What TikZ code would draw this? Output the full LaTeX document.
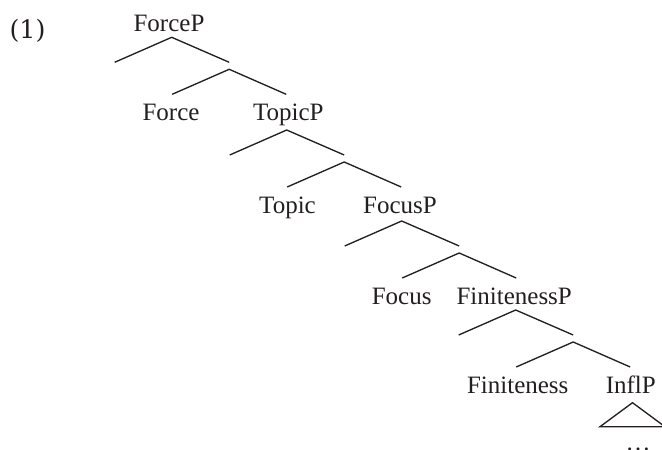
\documentclass[tikz,border=0pt]{standalone}
\usepackage{fontspec}
\setmainfont{Liberation Serif}
\newfontfamily\exfont{DejaVu Serif}
\definecolor{ink}{RGB}{35,31,32}
\tikzset{
  lbl/.style={anchor=base, inner sep=0pt, text=ink, font=\fontsize{18.75pt}{20pt}\selectfont},
  br/.style={draw=ink, line width=1pt},
}
\begin{document}
\begin{tikzpicture}[x=0.75pt, y=-0.75pt]
\useasboundingbox (0,0) rectangle (662,450);
\clip (0,0) rectangle (662,450);
\node[anchor=base, inner sep=0pt, text=ink, font=\exfont\fontsize{19pt}{20pt}\selectfont] (ex) at (27.5,38.5) {(1)};
% labels
\node[lbl] (forcep) at (169,31.7) {ForceP};
\node[lbl] (force) at (171,120.7) {Force};
\node[lbl] (topicp) at (288.3,120.7) {TopicP};
\node[lbl] (topic) at (287.5,213.3) {Topic};
\node[lbl] (focusp) at (400,213.3) {FocusP};
\node[lbl] (focus) at (401.7,304) {Focus};
\node[lbl] (finp) at (514.2,304) {FinitenessP};
\node[lbl] (fin) at (517.7,393.3) {Finiteness};
\node[lbl] (inflp) at (630.8,393.3) {InflP};
\node[lbl] (dots) at (638,450.5) {\ldots};
% level coordinates
\foreach \i/\x/\y in {1/171.7/37.3, 2/286.7/130, 3/401.7/221, 4/515.7/310}{
  \coordinate (a\i) at (\x,\y);
  \coordinate (al\i) at (\x-57,\y+25);
  \coordinate (ar\i) at (\x+57.5,\y+25);
  \coordinate (b\i) at (\x+57.5,\y+32);
  \coordinate (bl\i) at (\x+0.5,\y+57);
  \coordinate (brr\i) at (\x+114.5,\y+57);
  \draw[br] (al\i) -- (a\i) -- (ar\i);
  \draw[br] (bl\i) -- (b\i) -- (brr\i);
}
% triangle
\coordinate (t) at (632.5,402.7);
\coordinate (tl) at (600,426.7);
\coordinate (tr) at (665,426.7);
\draw[br, line join=miter] (t) -- (tl) -- (tr) -- cycle;
\end{tikzpicture}
\end{document}
